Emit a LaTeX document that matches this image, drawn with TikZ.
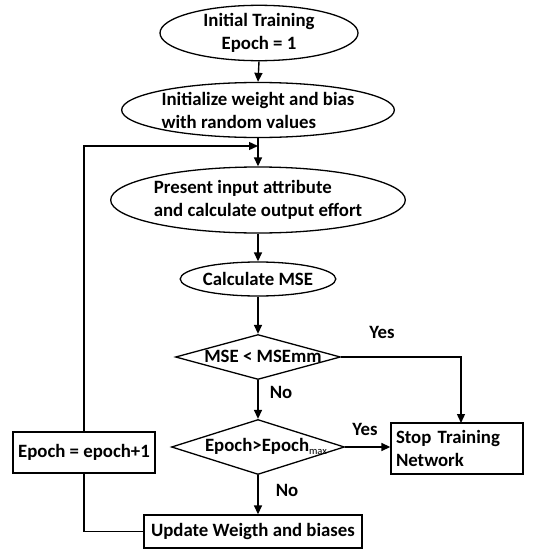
\documentclass[tikz,border=0pt]{standalone}
\usepackage{fontspec}
\setmainfont{Carlito}
\usetikzlibrary{shapes.geometric,arrows.meta}
\begin{document}
\begin{tikzpicture}[x=1pt,y=-1pt,
  every node/.style={font=\bfseries\fontsize{18.8}{23}\selectfont},
  ell/.style={draw, ellipse, line width=1.3pt, inner sep=0pt},
  box/.style={draw, rectangle, line width=1.3pt, inner sep=0pt},
  dia/.style={draw, diamond, line width=1.3pt, inner sep=0pt},
  flow/.style={line width=1.4pt, -{Triangle[length=9pt,width=8pt]}},
  plain/.style={line width=1.4pt}]
\useasboundingbox (0,0) rectangle (550,549);
\fill[white] (0,0) rectangle (550,549);
\node[ell, minimum width=198pt, minimum height=53pt, align=center] (e1) at (259,33) {Initial Training\\Epoch = 1};
\node[ell, minimum width=257pt, minimum height=55pt, align=left] (e2) at (258,110) {Initialize weight and bias\\with random values};
\node[ell, minimum width=257pt, minimum height=66pt, align=left] (e3) at (258,200) {Present input attribute\\and calculate output effort};
\node[ell, minimum width=154pt, minimum height=34pt] (e4) at (258,279) {Calculate MSE};
\node[dia, minimum width=165pt, minimum height=45pt] (d1) at (258,357) {};
\node (d1t) at (263,356) {MSE < MSEmm};
\node[dia, minimum width=173pt, minimum height=55pt] (d2) at (258,447) {};
\node (d2t) at (266,446) {Epoch>Epoch\raisebox{-3pt}{\mdseries\fontsize{10.5}{10.5}\selectfont max}};
\node[box, minimum width=132pt, minimum height=51pt, text width=122pt, align=left] (stop) at (457,448.5) {Stop Training\\Network};
\node[box, minimum width=218pt, minimum height=33pt] (upd) at (253,531.5) {Update Weigth and biases};
\node[box, minimum width=142pt, minimum height=41pt] (ep) at (84,452.5) {Epoch = epoch+1};
\coordinate (lp) at (258,146);
\coordinate (st) at (461,423);
\draw[flow] (e1.south) -- (e2.north);
\draw[flow] (e2.south) -- (e3.north);
\draw[flow] (ep.north) |- (lp);
\draw[flow] (e3.south) -- (e4.north);
\draw[flow] (e4.south) -- (d1.north);
\draw[flow] (d1.east) -| (st);
\draw[flow] (d1.south) -- (d2.north);
\draw[flow] (d2.east) -- (d2.east -| stop.west);
\draw[flow] (d2.south) -- (d2.south |- upd.north);
\draw[plain] (upd.west) -| (ep.south);
\node (y1) at (382,332) {Yes};
\node (n1) at (281,392) {No};
\node (y2) at (365,429) {Yes};
\node (n2) at (287,490) {No};
\end{tikzpicture}
\end{document}
